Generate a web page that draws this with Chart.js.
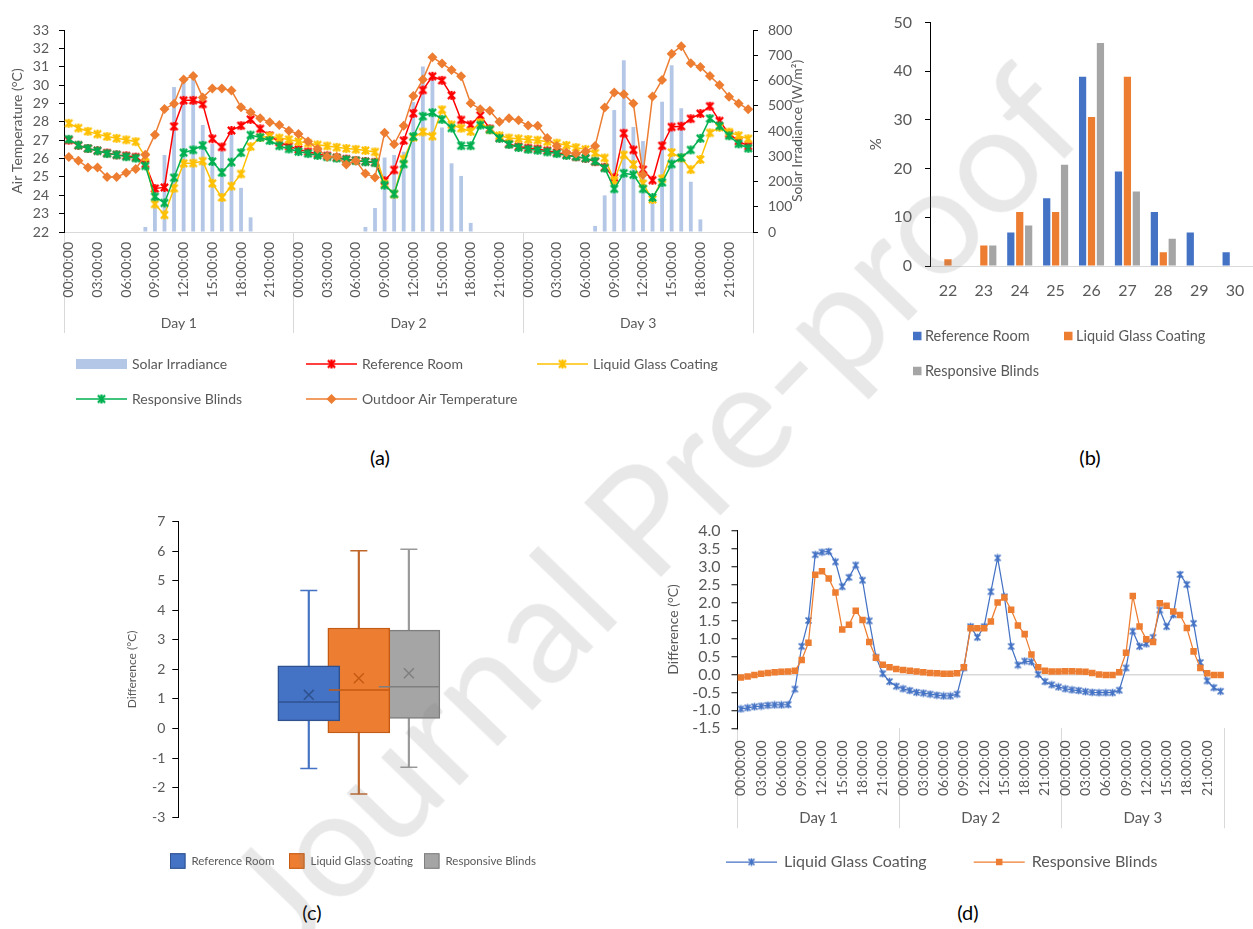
<!DOCTYPE html>
<html>
<head>
<meta charset="utf-8">
<script src="https://cdn.jsdelivr.net/npm/chart.js@4.4.1/dist/chart.umd.min.js"></script>
<style>
  html, body { margin: 0; padding: 0; width: 1253px; height: 929px; overflow: hidden; background: #fff; }
  canvas { position: absolute; }
  .cap { position: absolute; font: 20px Lato, "Open Sans", sans-serif; color: #000; transform: translate(-50%, -50%); }
  #wm { position: absolute; left: 650px; top: 505px; transform: translate(-50%, -50%) rotate(-46deg);
        font: 150px Lato, "Open Sans", sans-serif; color: rgba(128,128,128,0.18); white-space: nowrap; pointer-events: none; }
</style>
</head>
<body>
<canvas id="chartA" width="815" height="420" style="left:0px;top:0px"></canvas>
<canvas id="chartB" width="400" height="395" style="left:860px;top:0px"></canvas>
<canvas id="chartC" width="440" height="390" style="left:110px;top:490px"></canvas>
<canvas id="chartD" width="593" height="380" style="left:660px;top:510px"></canvas>
<div class="cap" style="left:380px;top:457px">(a)</div>
<div class="cap" style="left:1090px;top:457px">(b)</div>
<div class="cap" style="left:312px;top:912px">(c)</div>
<div class="cap" style="left:968px;top:912px">(d)</div>
<div id="wm">Journal Pre-proof</div>
<script>
// ---- shared category labels ----
const hours = ['00:00:00','01:00:00','02:00:00','03:00:00','04:00:00','05:00:00','06:00:00','07:00:00',
               '08:00:00','09:00:00','10:00:00','11:00:00','12:00:00','13:00:00','14:00:00','15:00:00',
               '16:00:00','17:00:00','18:00:00','19:00:00','20:00:00','21:00:00','22:00:00','23:00:00'];
const days = ['Day 1', 'Day 2', 'Day 3'];

// ---- (a) hourly measurements over three days ----
const solarIrradiance = [
  0,0,0,0,0,0,0,0,20,180,305,574,600,615,424,350,320,386,175,58,0,0,0,0,
  0,0,0,0,0,0,0,20,95,295,305,318,515,655,610,414,272,222,36,0,0,0,0,0,
  0,0,0,0,0,0,0,24,145,483,680,416,360,130,516,660,490,199,50,0,0,0,0,0];
const referenceRoom = [
  27.0,26.72,26.55,26.43,26.3,26.2,26.15,26.08,25.7,24.37,24.43,27.75,29.17,29.17,28.97,27.08,26.63,27.53,27.79,28.13,27.62,27.25,26.89,26.67,
  26.5,26.37,26.25,26.15,26.06,25.97,25.9,25.84,25.8,24.79,25.38,26.98,28.46,29.73,30.48,30.26,29.44,28.1,27.84,28.35,27.62,27.13,26.8,26.65,
  26.57,26.52,26.43,26.33,26.21,26.1,26.01,25.83,25.52,24.96,27.38,26.47,25.4,24.82,26.7,27.72,27.76,28.17,28.45,28.85,28.05,27.35,26.95,26.68];
const liquidGlassCoating = [
  27.92,27.66,27.48,27.33,27.2,27.1,27.02,26.92,26.1,23.52,22.93,24.38,25.74,25.75,25.86,24.65,23.88,24.5,25.16,26.65,27.15,27.22,27.12,27.04,
  26.93,26.84,26.75,26.68,26.61,26.55,26.5,26.44,26.36,24.62,24.06,25.97,27.15,27.45,27.22,28.66,27.84,27.65,27.47,27.96,27.57,27.25,27.12,27.08,
  27.04,27.0,26.92,26.84,26.72,26.6,26.5,26.3,26.03,24.8,26.2,25.68,24.64,23.77,24.9,26.33,26.03,25.4,25.95,27.4,27.7,27.44,27.25,27.08];
const responsiveBlinds = [
  27.05,26.73,26.55,26.42,26.27,26.2,26.1,26.02,25.6,23.92,23.58,24.96,26.32,26.47,26.72,25.84,25.24,25.8,26.32,27.28,27.15,26.98,26.69,26.52,
  26.38,26.27,26.17,26.09,26.02,25.94,25.88,25.82,25.77,24.55,24.07,25.7,27.2,28.3,28.5,28.13,27.66,26.7,26.7,27.82,27.57,27.1,26.77,26.6,
  26.5,26.45,26.36,26.27,26.17,26.1,26.02,25.85,25.48,24.35,25.2,25.12,24.35,23.88,24.7,25.7,26.05,26.47,27.1,28.18,27.78,27.24,26.8,26.56];
const outdoorAirTemperature = [
  26.09,25.88,25.51,25.51,25.0,25.0,25.22,25.43,26.2,27.3,28.7,28.98,30.3,30.5,29.33,29.82,29.82,29.7,28.8,28.52,28.2,27.98,27.82,27.52,
  27.33,26.93,26.52,26.1,26.1,25.68,25.88,25.18,24.97,27.4,26.78,27.78,29.4,30.3,31.51,31.18,30.82,30.48,29.01,28.69,28.6,28.0,28.2,28.08,
  27.8,27.79,27.12,26.68,26.33,26.28,26.39,26.68,28.78,29.6,29.5,29.0,25.12,29.38,30.28,31.71,32.12,31.19,30.98,30.49,30.01,29.37,29.0,28.68];

// ---- (b) share of hours per temperature band (%) ----
const histBins = ['22','23','24','25','26','27','28','29','30'];
const histReference = [0, 0, 6.9, 13.9, 38.9, 19.4, 11.1, 6.9, 2.8];
const histLiquidGlass = [1.4, 4.2, 11.1, 11.1, 30.6, 38.9, 2.8, 0, 0];
const histBlinds = [0, 4.2, 8.3, 20.8, 45.8, 15.3, 5.6, 0, 0];

// ---- (c) distribution of indoor-outdoor difference ----
const boxSeries = ['Reference Room', 'Liquid Glass Coating', 'Responsive Blinds'];
const boxMin = [-1.35, -2.21, -1.31];
const boxQ1 = [0.26, -0.15, 0.34];
const boxMedian = [0.9, 1.3, 1.41];
const boxQ3 = [2.12, 3.4, 3.33];
const boxMax = [4.67, 6.01, 6.06];
const boxMean = [1.14, 1.7, 1.87];

// ---- (d) difference to the reference room ----
const diffLiquidGlass = [
  -0.96,-0.93,-0.9,-0.88,-0.86,-0.85,-0.85,-0.84,-0.41,0.78,1.5,3.33,3.4,3.42,3.13,2.44,2.7,3.04,2.62,1.49,0.48,0.02,-0.2,-0.33,
  -0.4,-0.45,-0.5,-0.52,-0.55,-0.58,-0.6,-0.6,-0.55,0.18,1.33,1.03,1.33,2.3,3.24,2.16,0.78,0.26,0.37,0.35,0.0,-0.2,-0.29,-0.35,
  -0.4,-0.43,-0.45,-0.48,-0.5,-0.51,-0.51,-0.51,-0.44,0.18,1.2,0.78,0.85,1.03,1.79,1.33,1.66,2.78,2.5,1.42,0.33,-0.18,-0.37,-0.47];
const diffBlinds = [
  -0.09,-0.06,-0.02,0.02,0.04,0.06,0.07,0.08,0.1,0.4,0.88,2.77,2.87,2.67,2.28,1.25,1.38,1.77,1.51,0.9,0.46,0.27,0.2,0.15,
  0.12,0.1,0.08,0.06,0.04,0.03,0.02,0.02,0.03,0.2,1.28,1.28,1.28,1.47,2.0,2.14,1.8,1.36,1.12,0.55,0.2,0.1,0.08,0.08,
  0.09,0.09,0.08,0.07,0.04,0.0,-0.02,-0.02,0.06,0.6,2.18,1.33,0.98,0.9,1.98,1.91,1.75,1.65,1.29,0.64,0.18,0.03,-0.02,-0.02];

const timeLabels = days.flatMap(() => hours);

Chart.defaults.font.family = 'Lato, "Open Sans", sans-serif';
Chart.defaults.color = '#595959';
Chart.defaults.animation = false;
Chart.defaults.plugins.legend.display = false;
Chart.defaults.plugins.tooltip.enabled = false;

const TEXT = '#595959';
const AXIS_GREY = '#d9d9d9';

// asterisk marker (x plus vertical bar)
function asterisk(color, size, lw) {
  const c = document.createElement('canvas');
  c.width = size; c.height = size;
  const g = c.getContext('2d');
  g.strokeStyle = color; g.lineWidth = lw;
  const m = size / 2, r = size / 2 - lw / 2, d = r * 0.82;
  g.beginPath();
  g.moveTo(m - d, m - d); g.lineTo(m + d, m + d);
  g.moveTo(m + d, m - d); g.lineTo(m - d, m + d);
  g.moveTo(m, m - r); g.lineTo(m, m + r);
  g.stroke();
  return c;
}

function drawMarker(ctx, ds, x, y) {
  const st = ds.pointStyle;
  if (st instanceof HTMLCanvasElement) {
    ctx.drawImage(st, x - st.width / 2, y - st.height / 2);
    return;
  }
  const r = ds.pointRadius;
  ctx.fillStyle = ds.pointBackgroundColor || ds.borderColor;
  ctx.beginPath();
  if (st === 'rectRot') {
    ctx.moveTo(x, y - r); ctx.lineTo(x + r, y); ctx.lineTo(x, y + r); ctx.lineTo(x - r, y);
  } else {
    const s = r * Math.SQRT1_2;
    ctx.rect(x - s, y - s, 2 * s, 2 * s);
  }
  ctx.closePath();
  ctx.fill();
}

// legend laid out on a fixed column grid below the plot
const gridLegend = {
  id: 'gridLegend',
  afterDraw(chart, _args, o) {
    const ctx = chart.ctx;
    ctx.save();
    ctx.font = o.fontSize + 'px Lato, "Open Sans", sans-serif';
    ctx.textBaseline = 'middle';
    ctx.textAlign = 'left';
    o.entries.forEach((e, k) => {
      const ds = chart.data.datasets[e.dataset];
      const x = o.columns[k % o.perRow];
      const y = o.rows[Math.floor(k / o.perRow)];
      let tx;
      if (e.kind === 'bar') {
        ctx.fillStyle = ds.backgroundColor;
        ctx.fillRect(x, y - o.barHeight / 2, o.swatchWidth, o.barHeight);
        tx = x + o.swatchWidth + o.gap;
      } else if (e.kind === 'line') {
        ctx.strokeStyle = ds.borderColor;
        ctx.lineWidth = ds.borderWidth;
        ctx.beginPath(); ctx.moveTo(x, y); ctx.lineTo(x + o.swatchWidth, y); ctx.stroke();
        drawMarker(ctx, ds, x + o.swatchWidth / 2, y);
        tx = x + o.swatchWidth + o.gap;
      } else {
        const s = o.square;
        ctx.fillStyle = ds.backgroundColor;
        ctx.fillRect(x, y - s / 2, s, s);
        if (o.squareBorder) {
          ctx.strokeStyle = ds.borderColor; ctx.lineWidth = 1;
          ctx.strokeRect(x + 0.5, y - s / 2 + 0.5, s - 1, s - 1);
        }
        tx = x + s + o.gap;
      }
      ctx.fillStyle = TEXT;
      ctx.fillText(ds.label, tx, y);
    });
    ctx.restore();
  }
};

// axis title on the right, reading bottom to top
const sideTitle = {
  id: 'sideTitle',
  afterDraw(chart, _args, o) {
    const s = chart.scales[o.scaleId];
    const ctx = chart.ctx;
    ctx.save();
    ctx.font = o.fontSize + 'px Lato, "Open Sans", sans-serif';
    ctx.fillStyle = TEXT; ctx.textAlign = 'center'; ctx.textBaseline = 'middle';
    ctx.translate(s.right - o.offset, (s.top + s.bottom) / 2);
    ctx.rotate(-Math.PI / 2);
    ctx.fillText(o.text, 0, 0);
    ctx.restore();
  }
};

// separators between days on the two-level time axis
const daySeparator = c => (c.index === undefined || c.index % 24 === 0) ? AXIS_GREY : 'rgba(0,0,0,0)';
function everyThirdHour(value, index) { return index % 3 === 0 ? this.getLabelForValue(value) : ''; }

// ================= (a) =================
new Chart(document.getElementById('chartA'), {
  type: 'bar',
  data: {
    labels: timeLabels,
    datasets: [
      { type: 'bar', label: 'Solar Irradiance', data: solarIrradiance, yAxisID: 'y1',
        backgroundColor: '#b4c7e7', barPercentage: 0.4, categoryPercentage: 1.0, order: 5 },
      { type: 'line', label: 'Reference Room', data: referenceRoom, yAxisID: 'y',
        borderColor: '#ff0000', borderWidth: 1.5, pointStyle: asterisk('#ff0000', 11, 2.2), pointRadius: 5, order: 4 },
      { type: 'line', label: 'Liquid Glass Coating', data: liquidGlassCoating, yAxisID: 'y',
        borderColor: '#ffc000', borderWidth: 1.5, pointStyle: asterisk('#ffc000', 11, 2.2), pointRadius: 5, order: 3 },
      { type: 'line', label: 'Responsive Blinds', data: responsiveBlinds, yAxisID: 'y',
        borderColor: '#00b050', borderWidth: 1.5, pointStyle: asterisk('#00b050', 11, 2.2), pointRadius: 5, order: 2 },
      { type: 'line', label: 'Outdoor Air Temperature', data: outdoorAirTemperature, yAxisID: 'y',
        borderColor: '#ed7d31', borderWidth: 1.5, pointStyle: 'rectRot', pointRadius: 5,
        pointBackgroundColor: '#ed7d31', pointBorderColor: '#ed7d31', pointBorderWidth: 0, order: 1 }
    ]
  },
  options: {
    responsive: false,
    layout: { padding: { top: 30, right: 0, bottom: 87, left: 0 } },
    plugins: {
      gridLegend: {
        entries: [{dataset: 0, kind: 'bar'}, {dataset: 1, kind: 'line'}, {dataset: 2, kind: 'line'},
                  {dataset: 3, kind: 'line'}, {dataset: 4, kind: 'line'}],
        columns: [76, 306, 537], rows: [364, 399], perRow: 3,
        swatchWidth: 51, barHeight: 10, gap: 5, fontSize: 14
      },
      sideTitle: { scaleId: 'y1', text: 'Solar Irradiance (W/m²)', offset: 18, fontSize: 14 }
    },
    scales: {
      x: {
        type: 'category', position: 'bottom', offset: true, weight: 0,
        grid: { offset: true, drawOnChartArea: false, tickLength: 101, color: daySeparator, tickColor: daySeparator },
        border: { color: AXIS_GREY },
        ticks: { autoSkip: false, minRotation: 90, maxRotation: 90, padding: -91, font: { size: 14 }, callback: everyThirdHour },
        afterFit: s => { s.height = 73; }
      },
      x2: {
        type: 'category', position: 'bottom', labels: days, offset: true, weight: 1,
        grid: { display: false, drawTicks: false }, border: { display: false },
        ticks: { font: { size: 14 }, padding: 9.6 },
        afterFit: s => { s.height = 28; }
      },
      y: {
        position: 'left', min: 22, max: 33,
        ticks: { stepSize: 1, autoSkip: false, font: { size: 14 }, padding: 10 },
        grid: { drawOnChartArea: false, color: '#000', tickLength: 5 },
        border: { color: '#000' },
        title: { display: true, text: 'Air Temperature (°C)', font: { size: 14 }, padding: { top: 9, bottom: 0 } },
        afterFit: s => { s.width = 64; }
      },
      y1: {
        position: 'right', min: 0, max: 800,
        ticks: { stepSize: 100, autoSkip: false, font: { size: 14 }, padding: 10 },
        grid: { drawOnChartArea: false, color: '#000', tickLength: 5 },
        border: { color: '#000' },
        afterFit: s => { s.width = 62; }
      }
    }
  },
  plugins: [gridLegend, sideTitle]
});

// ================= (b) =================
new Chart(document.getElementById('chartB'), {
  type: 'bar',
  data: {
    labels: histBins,
    datasets: [
      { label: 'Reference Room', data: histReference, backgroundColor: '#4472c4' },
      { label: 'Liquid Glass Coating', data: histLiquidGlass, backgroundColor: '#ed7d31' },
      { label: 'Responsive Blinds', data: histBlinds, backgroundColor: '#a5a5a5' }
    ]
  },
  options: {
    responsive: false,
    categoryPercentage: 0.746, barPercentage: 0.81,
    layout: { padding: { top: 15.7, right: 4.2, bottom: 84, left: 0 } },
    plugins: {
      gridLegend: {
        entries: [{dataset: 0, kind: 'square'}, {dataset: 1, kind: 'square'}, {dataset: 2, kind: 'square'}],
        columns: [53, 204], rows: [336, 371], perRow: 2,
        square: 8.5, gap: 3.5, fontSize: 14.5
      }
    },
    scales: {
      x: {
        grid: { display: false, drawTicks: false }, border: { color: AXIS_GREY },
        ticks: { font: { size: 16 }, padding: 15.4 },
        afterFit: s => { s.height = 45; }
      },
      y: {
        min: 0, max: 50,
        ticks: { stepSize: 10, autoSkip: false, font: { size: 16 }, padding: 13 },
        grid: { drawOnChartArea: false, color: '#000', tickLength: 5 },
        border: { color: '#000' },
        title: { display: true, text: '%', font: { size: 15 }, padding: { top: 7, bottom: 0 } },
        afterFit: s => { s.width = 70; }
      }
    }
  },
  plugins: [gridLegend]
});

// ================= (c) =================
const boxFill = ['#4472c4', '#ed7d31', '#a5a5a5'];
const boxEdge = ['#2f528f', '#c55a11', '#7f7f7f'];
const whiskerColor = ['#4472c4', '#c0662a', '#999999'];
const boxDatasets = [];
boxSeries.forEach((name, k) => {
  boxDatasets.push({ type: 'bar', label: name, data: [{ x: k + 1, y: [boxQ1[k], boxQ3[k]] }],
    backgroundColor: boxFill[k], borderColor: boxEdge[k], borderWidth: 1.5, borderSkipped: false,
    barThickness: 62, grouped: false, order: 2 });
});
boxSeries.forEach((name, k) => {
  boxDatasets.push({ type: 'bar', label: name + ' range', data: [{ x: k + 1, y: [boxMin[k], boxMax[k]] }],
    backgroundColor: whiskerColor[k], barThickness: 1.5, grouped: false, order: 3 });
  boxDatasets.push({ type: 'line', label: name + ' ends', data: [{ x: k + 1, y: boxMin[k] }, { x: k + 1, y: boxMax[k] }],
    showLine: false, pointStyle: 'line', pointRadius: 8.5, pointBorderWidth: 1.5, pointBorderColor: whiskerColor[k], order: 1 });
  boxDatasets.push({ type: 'line', label: name + ' median', data: [{ x: k + 1, y: boxMedian[k] }],
    showLine: false, pointStyle: 'line', pointRadius: 30, pointBorderWidth: 1.5, pointBorderColor: boxEdge[k], order: 1 });
  boxDatasets.push({ type: 'line', label: name + ' mean', data: [{ x: k + 1, y: boxMean[k] }],
    showLine: false, pointStyle: 'crossRot', pointRadius: 7, pointBorderWidth: 1.5, pointBorderColor: boxEdge[k], order: 1 });
});
new Chart(document.getElementById('chartC'), {
  type: 'bar',
  data: { datasets: boxDatasets },
  options: {
    responsive: false,
    layout: { padding: { top: 23.3, right: 10, bottom: 62.7, left: 0 } },
    plugins: {
      gridLegend: {
        entries: [{dataset: 0, kind: 'square'}, {dataset: 1, kind: 'square'}, {dataset: 2, kind: 'square'}],
        columns: [60, 179, 314], rows: [371], perRow: 3,
        square: 15.5, squareBorder: true, gap: 6, fontSize: 11.5
      }
    },
    scales: {
      x: { type: 'linear', display: false, min: -0.928, max: 4.511 },
      y: {
        min: -3, max: 7,
        ticks: { stepSize: 1, autoSkip: false, font: { size: 14 }, padding: 7 },
        grid: { drawOnChartArea: false, color: '#000', tickLength: 6 },
        border: { color: '#000' },
        title: { display: true, text: 'Difference (°C)', font: { size: 12 }, padding: { top: 14.8, bottom: 0 } },
        afterFit: s => { s.width = 68.3; }
      }
    }
  },
  plugins: [gridLegend]
});

// ================= (d) =================
new Chart(document.getElementById('chartD'), {
  type: 'line',
  data: {
    labels: timeLabels,
    datasets: [
      { label: 'Liquid Glass Coating', data: diffLiquidGlass, borderColor: '#4472c4', borderWidth: 1.25,
        pointStyle: asterisk('#4472c4', 9, 1.7), pointRadius: 4, order: 2 },
      { label: 'Responsive Blinds', data: diffBlinds, borderColor: '#ed7d31', borderWidth: 1.25,
        pointStyle: 'rect', pointRadius: 4.6, pointBackgroundColor: '#ed7d31', pointBorderColor: '#ed7d31', pointBorderWidth: 0, order: 1 }
    ]
  },
  options: {
    responsive: false,
    layout: { padding: { top: 19, right: 29, bottom: 61.7, left: 0 } },
    plugins: {
      gridLegend: {
        entries: [{dataset: 0, kind: 'line'}, {dataset: 1, kind: 'line'}],
        columns: [66, 313.7], rows: [352], perRow: 2,
        swatchWidth: 51, gap: 7, fontSize: 16
      }
    },
    scales: {
      x: {
        type: 'category', position: 'bottom', offset: true, weight: 0,
        grid: { offset: true, drawOnChartArea: false, tickLength: 100, color: daySeparator, tickColor: daySeparator },
        border: { display: false },
        ticks: { autoSkip: false, minRotation: 90, maxRotation: 90, padding: -88, font: { size: 14 }, callback: everyThirdHour },
        afterFit: s => { s.height = 72; }
      },
      x2: {
        type: 'category', position: 'bottom', labels: days, offset: true, weight: 1,
        grid: { display: false, drawTicks: false }, border: { display: false },
        ticks: { font: { size: 15 }, padding: 9.3 },
        afterFit: s => { s.height = 28; }
      },
      y: {
        min: -1.5, max: 4,
        ticks: { stepSize: 0.5, autoSkip: false, font: { size: 16 }, padding: 11, callback: v => v.toFixed(1) },
        grid: { color: c => (c.tick && c.tick.value === 0) ? AXIS_GREY : 'rgba(0,0,0,0)', lineWidth: 1.5,
                tickColor: '#000', tickWidth: 1, tickLength: 6 },
        border: { color: '#000' },
        title: { display: true, text: 'Difference (°C)', font: { size: 14 }, padding: { top: 5.1, bottom: 0 } },
        afterFit: s => { s.width = 77.5; }
      }
    }
  },
  plugins: [gridLegend]
});
</script>
</body>
</html>
